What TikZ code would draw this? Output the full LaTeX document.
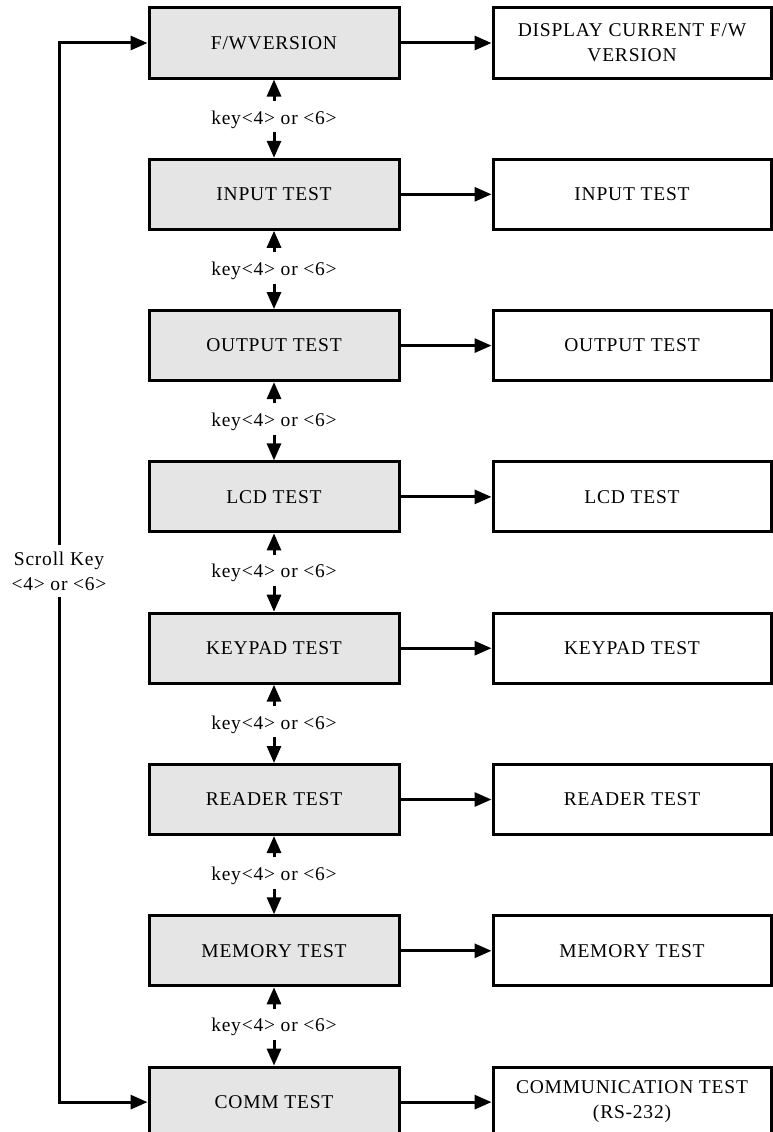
\documentclass[tikz,border=0pt]{standalone}
\usepackage{fontspec}
\setmainfont{Liberation Serif}[LetterSpace=4]
\usetikzlibrary{arrows.meta}
\begin{document}
\begin{tikzpicture}[x=1pt,y=-1pt,
  every node/.style={font=\fontsize{19.5}{25}\selectfont},
  menubox/.style={draw, line width=3pt, fill=black!10, minimum width=250pt, minimum height=70pt, inner sep=0pt},
  resbox/.style={draw, line width=3pt, fill=white, minimum width=278pt, minimum height=70pt, inner sep=0pt, align=center},
  keylabel/.style={anchor=base, inner xsep=0pt, inner ysep=5pt, text height=18pt, text depth=3pt},
  scrolllabel/.style={align=center, inner sep=0pt, minimum height=52pt},
  arr/.style={line width=3pt, -{Triangle[length=17pt,width=14pt]}}
]
\useasboundingbox (0,0) rectangle (773,1132);

% main menu boxes
\node[menubox] (b1) at (274,43)     {F/WVERSION};
\node[menubox] (b2) at (274,194.3)  {INPUT TEST};
\node[menubox] (b3) at (274,345.6)  {OUTPUT TEST};
\node[menubox] (b4) at (274,496.9)  {LCD TEST};
\node[menubox] (b5) at (274,648.2)  {KEYPAD TEST};
\node[menubox] (b6) at (274,799.5)  {READER TEST};
\node[menubox] (b7) at (274,950.8)  {MEMORY TEST};
\node[menubox] (b8) at (274,1102.1) {COMM TEST};

% result boxes
\node[resbox] (r1) at (632,43)     {DISPLAY CURRENT F/W\\VERSION};
\node[resbox] (r2) at (632,194.3)  {INPUT TEST};
\node[resbox] (r3) at (632,345.6)  {OUTPUT TEST};
\node[resbox] (r4) at (632,496.9)  {LCD TEST};
\node[resbox] (r5) at (632,648.2)  {KEYPAD TEST};
\node[resbox] (r6) at (632,799.5)  {READER TEST};
\node[resbox] (r7) at (632,950.8)  {MEMORY TEST};
\node[resbox] (r8) at (632,1102.1) {COMMUNICATION TEST\\(RS-232)};

% key labels between boxes
\node[keylabel] (k1) at (274,124)    {key<4> or <6>};
\node[keylabel] (k2) at (274,275.3)  {key<4> or <6>};
\node[keylabel] (k3) at (274,426.6)  {key<4> or <6>};
\node[keylabel] (k4) at (274,577.9)  {key<4> or <6>};
\node[keylabel] (k5) at (274,729.2)  {key<4> or <6>};
\node[keylabel] (k6) at (274,880.5)  {key<4> or <6>};
\node[keylabel] (k7) at (274,1031.8) {key<4> or <6>};

% scroll label
\node[scrolllabel] (sl) at (59,571) {Scroll Key\\<4> or <6>};

% horizontal arrows
\foreach \i in {1,...,8}{
  \draw[arr] (b\i) -- (r\i);
}

% vertical arrows
\foreach \i [evaluate=\i as \j using int(\i+1)] in {1,...,7}{
  \draw[arr] (k\i) -- (b\i);
  \draw[arr] (k\i) -- (b\j);
}

% scroll loop
\draw[arr] (sl.north) |- (b1.west);
\draw[arr] (sl.south) |- (b8.west);
\end{tikzpicture}
\end{document}
